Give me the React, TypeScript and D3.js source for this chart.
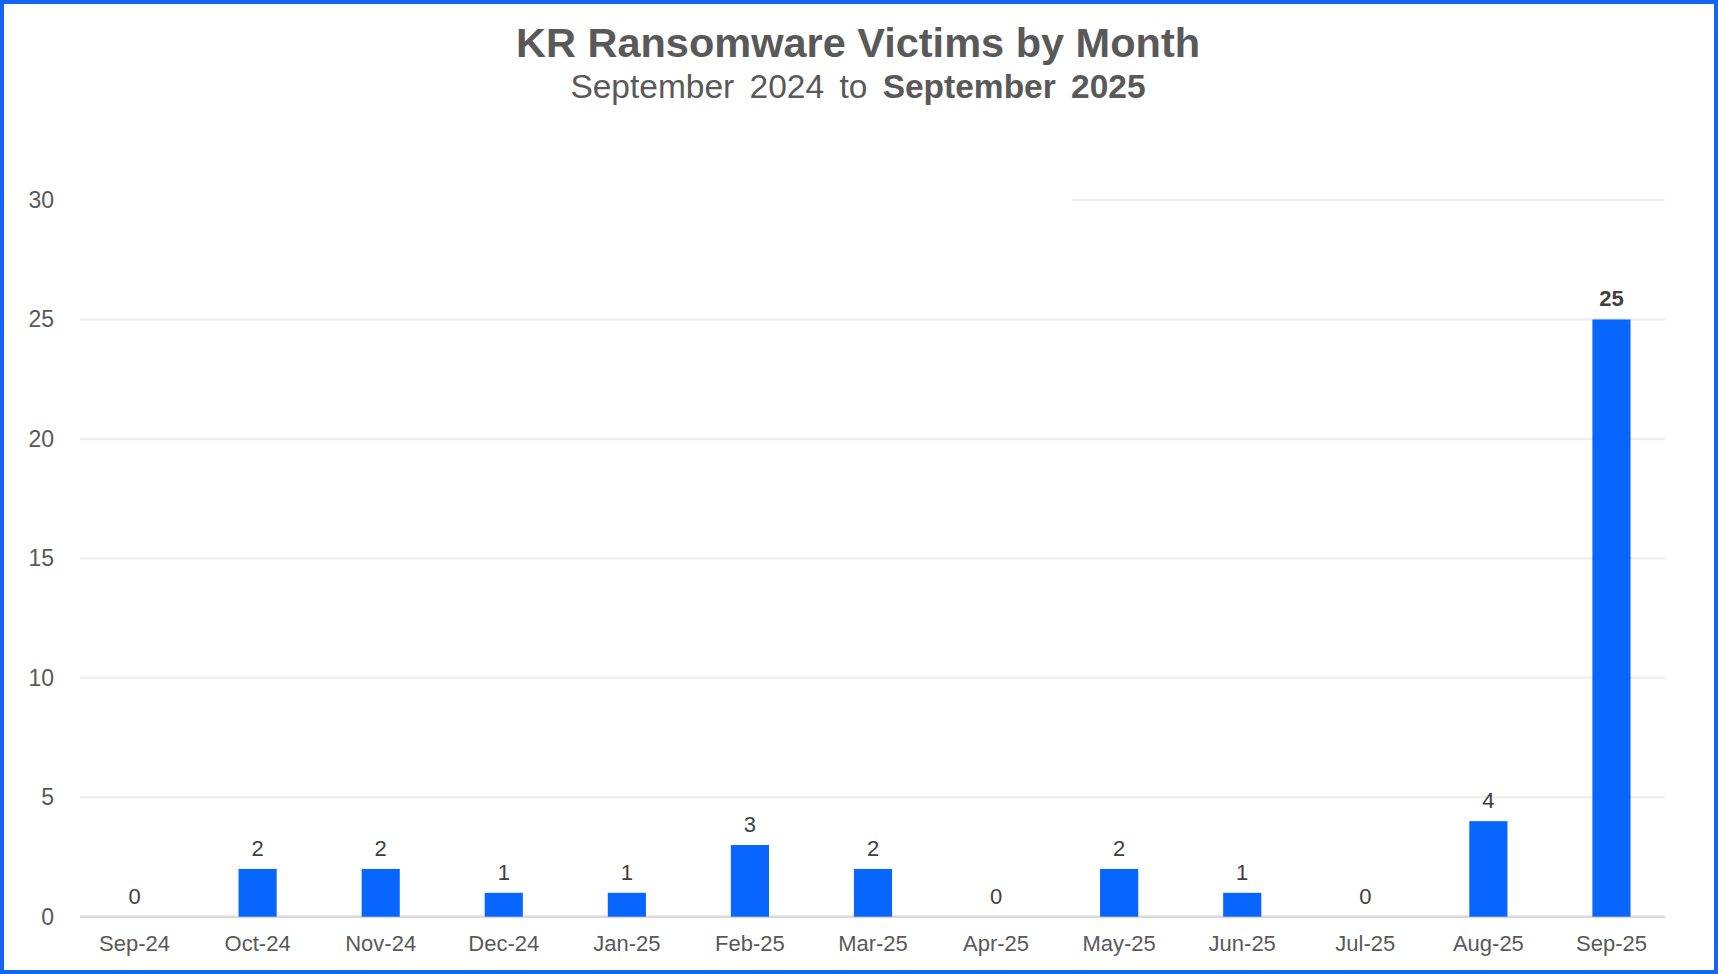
import React, { useEffect, useRef } from "react";
import * as d3 from "d3";

const months = [
  "Sep-24", "Oct-24", "Nov-24", "Dec-24", "Jan-25", "Feb-25", "Mar-25",
  "Apr-25", "May-25", "Jun-25", "Jul-25", "Aug-25", "Sep-25",
];
const victims = [0, 2, 2, 1, 1, 3, 2, 0, 2, 1, 0, 4, 25];
const yTicks = [0, 5, 10, 15, 20, 25, 30];
const titleText = "KR Ransomware Victims by Month";
const subtitleStart = "September 2024 to ";
const subtitleEnd = "September 2025";

const App = () => {
  const svgRef = useRef<SVGSVGElement | null>(null);

  useEffect(() => {
    const width = 1718;
    const height = 974;
    const font = "'Liberation Sans', Arial, sans-serif";

    const x = d3
      .scaleBand()
      .domain(months)
      .range([73, 1673])
      .paddingInner(0.69)
      .paddingOuter(0.345);

    const y = d3.scaleLinear().domain([0, 30]).range([916.7, 200]);

    const svg = d3
      .select(svgRef.current)
      .attr("width", width)
      .attr("height", height)
      .attr("viewBox", [0, 0, width, height])
      .style("position", "absolute")
      .style("left", "0px")
      .style("top", "0px")
      .style("font-family", font);

    svg.selectAll("*").remove();

    svg.append("rect").attr("width", width).attr("height", height).attr("fill", "#fff");

    // gridlines (the top one is partly hidden in the original)
    svg
      .append("g")
      .selectAll("line")
      .data(yTicks)
      .join("line")
      .attr("x1", (d) => (d === 30 ? 1072 : 80))
      .attr("x2", 1665)
      .attr("y1", (d) => y(d))
      .attr("y2", (d) => y(d))
      .attr("stroke", (d) => (d === 0 ? "#d9d9d9" : "#efefef"))
      .attr("stroke-width", 2.5);

    // y tick labels
    svg
      .append("g")
      .selectAll("text")
      .data(yTicks)
      .join("text")
      .attr("x", 54)
      .attr("y", (d) => y(d) + 8)
      .attr("text-anchor", "end")
      .attr("font-size", 23)
      .attr("fill", "#595959")
      .text((d) => d);

    // bars
    svg
      .append("g")
      .selectAll("rect")
      .data(victims)
      .join("rect")
      .attr("x", (_, i) => x(months[i])!)
      .attr("width", x.bandwidth())
      .attr("y", (d) => y(d))
      .attr("height", (d) => y(0) - y(d))
      .attr("fill", "#0866ff");

    // value labels
    svg
      .append("g")
      .selectAll("text")
      .data(victims)
      .join("text")
      .attr("x", (_, i) => x(months[i])! + x.bandwidth() / 2)
      .attr("y", (d) => y(d) - 13)
      .attr("text-anchor", "middle")
      .attr("font-size", 22)
      .attr("font-weight", (d, i) => (i === victims.length - 1 ? "bold" : "normal"))
      .attr("fill", "#404040")
      .text((d) => d);

    // x axis labels
    svg
      .append("g")
      .selectAll("text")
      .data(months)
      .join("text")
      .attr("x", (d) => x(d)! + x.bandwidth() / 2)
      .attr("y", 951)
      .attr("text-anchor", "middle")
      .attr("font-size", 22)
      .attr("fill", "#595959")
      .text((d) => d);

    // title + subtitle
    svg
      .append("text")
      .attr("x", 858)
      .attr("y", 57)
      .attr("text-anchor", "middle")
      .attr("font-size", 41.5)
      .attr("font-weight", "bold")
      .attr("fill", "#595959")
      .text(titleText);

    const sub = svg
      .append("text")
      .attr("x", 858)
      .attr("y", 98)
      .attr("text-anchor", "middle")
      .attr("font-size", 33.5)
      .attr("word-spacing", 6)
      .attr("fill", "#595959");
    sub.append("tspan").text(subtitleStart);
    sub.append("tspan").attr("font-weight", "bold").text(subtitleEnd);

    // border
    svg
      .append("rect")
      .attr("x", 2)
      .attr("y", 2)
      .attr("width", width - 4)
      .attr("height", height - 4)
      .attr("fill", "none")
      .attr("stroke", "#1266f1")
      .attr("stroke-width", 4);
  }, []);

  return <svg ref={svgRef}></svg>;
};

export default App;
